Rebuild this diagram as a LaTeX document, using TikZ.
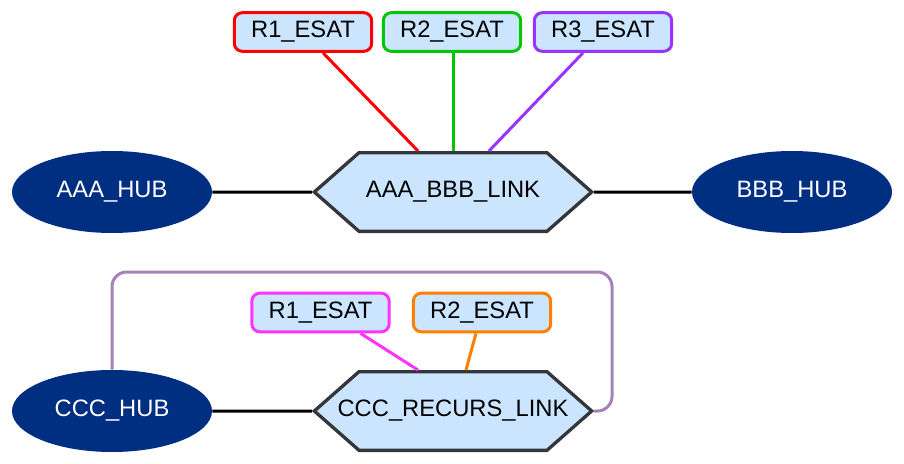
\documentclass[tikz,border=0pt]{standalone}
\usepackage{fontspec}
\setmainfont{Liberation Sans}
\usetikzlibrary{shapes.geometric,shapes.symbols,calc}

\definecolor{hubblue}{RGB}{0,46,128}
\definecolor{paleblue}{RGB}{204,229,255}
\definecolor{darkrim}{RGB}{51,55,60}
\definecolor{esatred}{RGB}{255,0,0}
\definecolor{esatgreen}{RGB}{0,200,0}
\definecolor{esatviolet}{RGB}{153,51,255}
\definecolor{esatpink}{RGB}{255,51,255}
\definecolor{esatorange}{RGB}{255,128,0}
\definecolor{loopmauve}{RGB}{166,128,184}

\tikzset{
    hub/.style={ellipse, fill=hubblue, text=white, minimum width=150pt,
        minimum height=61.5pt, inner sep=0pt, font=\fontsize{17.8}{20}\selectfont},
    link/.style={signal, signal to=west and east, signal pointer angle=82.7,
        draw=darkrim, line width=2.5pt, fill=paleblue, minimum width=208pt,
        minimum height=59pt, inner sep=0pt, font=\fontsize{17.8}{20}\selectfont},
    esat/.style={rectangle, rounded corners=6pt, draw=#1, line width=2.25pt,
        fill=paleblue, minimum width=103pt, minimum height=29pt, inner sep=0pt,
        font=\fontsize{17.8}{20}\selectfont},
    wire/.style={line width=2.25pt, draw=#1},
    wire/.default=black,
    loopline/.style={line width=2.25pt, draw=loopmauve, rounded corners=11pt}
}

\begin{document}
\begin{tikzpicture}[x=0.75pt,y=-0.75pt]
    \useasboundingbox (0,0) rectangle (904,464);
    % upper group
    \node[hub] (aaa) at (112,192) {AAA\_HUB};
    \node[hub] (bbb) at (792,192) {BBB\_HUB};
    \node[link] (abl) at (453,192) {\makebox[0pt]{AAA\_BBB\_LINK}};
    \node[esat=esatred] (r1a) at (303,32) {R1\_ESAT};
    \node[esat=esatgreen] (r2a) at (452,32) {R2\_ESAT};
    \node[esat=esatviolet] (r3a) at (603,32) {R3\_ESAT};

    \draw[wire] (aaa) -- (abl);
    \draw[wire] (abl) -- (bbb);
    \draw[wire=esatred] ([xshift=15pt]r1a.south) -- ([xshift=-26.25pt]abl.north);
    \draw[wire=esatgreen] ([xshift=0.75pt]r2a.south) -- (abl.north);
    \draw[wire=esatviolet] ([xshift=-15pt]r3a.south) -- ([xshift=27pt]abl.north);

    % lower group
    \node[hub] (ccc) at (112,411) {CCC\_HUB};
    \node[link] (crl) at (453,411) {\makebox[0pt]{CCC\_RECURS\_LINK}};
    \node[esat=esatpink] (r1c) at (320.5,312.5) {R1\_ESAT};
    \node[esat=esatorange] (r2c) at (482,312.5) {R2\_ESAT};
    \coordinate (loopcorner) at (612,272);

    \draw[wire] (ccc) -- (crl);
    \draw[wire=esatpink] ([xshift=30pt]r1c.south) -- ([xshift=-26.25pt]crl.north);
    \draw[wire=esatorange] ([xshift=-4.5pt]r2c.south) -- ([xshift=9.75pt]crl.north);
    \draw[loopline] (ccc.north) -- (ccc.north |- loopcorner) -- (loopcorner)
        -- (loopcorner |- crl.east) -- (crl.east);
\end{tikzpicture}
\end{document}
